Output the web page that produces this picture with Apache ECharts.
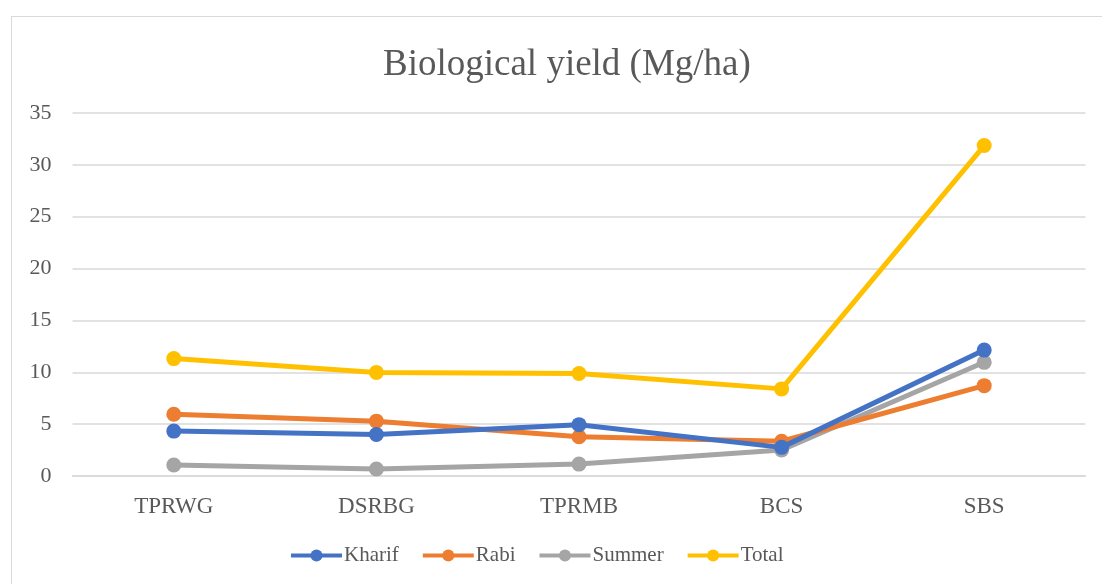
<!DOCTYPE html>
<html>
<head>
<meta charset="utf-8">
<script src="https://cdn.jsdelivr.net/npm/echarts@6/dist/echarts.min.js"></script>
<style>
  html, body { margin: 0; padding: 0; background: #fff; }
  #frame { position: absolute; left: 11px; top: 16px; width: 1100px; height: 580px; border: 1px solid #d9d9d9; box-sizing: border-box; }
  #chart { position: absolute; left: 0; top: 0; width: 1102px; height: 584px; }
</style>
</head>
<body>
<div id="frame"></div>
<div id="chart"></div>
<script>
// categorias e valores
const categories = ['TPRWG', 'DSRBG', 'TPRMB', 'BCS', 'SBS'];
const kharif = [4.33, 4.0, 4.95, 2.76, 12.14];
const rabi = [5.96, 5.29, 3.78, 3.35, 8.71];
const summer = [1.06, 0.67, 1.15, 2.5, 10.96];
const total = [11.32, 9.99, 9.88, 8.4, 31.86];

const seriesNames = ['Kharif', 'Rabi', 'Summer', 'Total'];
const seriesData = [kharif, rabi, summer, total];
const colors = ['#4472c4', '#ed7d31', '#a5a5a5', '#ffc000'];

const font = '"Liberation Serif", "DejaVu Serif", serif';

const chart = echarts.init(document.getElementById('chart'));

const option = {
    backgroundColor: 'transparent',
    color: colors,
    title: {
        text: 'Biological yield (Mg/ha)',
        left: 378,
        top: 42,
        textStyle: { fontFamily: font, fontSize: 37, fontWeight: 'normal', color: '#595959' }
    },
    legend: {
        data: seriesNames,
        bottom: 13,
        left: 284,
        itemWidth: 51,
        itemHeight: 15,
        itemGap: 22,
        lineStyle: { width: 4 },
        textStyle: { fontFamily: font, fontSize: 21, color: '#595959', padding: [0, 0, 0, -3] }
    },
    grid: { left: 72.5, right: 16.5, top: 113, bottom: 108 },
    xAxis: {
        type: 'category',
        data: categories,
        boundaryGap: true,
        axisLine: { lineStyle: { color: '#d9d9d9', width: 1.5 } },
        axisTick: { show: false },
        axisLabel: { fontFamily: font, fontSize: 23, color: '#595959', margin: 19 }
    },
    yAxis: {
        type: 'value',
        min: 0,
        max: 35,
        interval: 5,
        axisLine: { show: false },
        axisTick: { show: false },
        splitLine: { lineStyle: { color: '#d9d9d9', width: 1.5 } },
        axisLabel: { fontFamily: font, fontSize: 22, color: '#595959', margin: 21 }
    },
    series: seriesNames.map((name, i) => ({
        name: name,
        type: 'line',
        data: seriesData[i],
        symbol: 'circle',
        symbolSize: 15,
        lineStyle: { width: 5 },
        itemStyle: { color: colors[i] },
        z: 10 - i
    }))
};

chart.setOption(option);

window.addEventListener('resize', () => chart.resize());
</script>
</body>
</html>
